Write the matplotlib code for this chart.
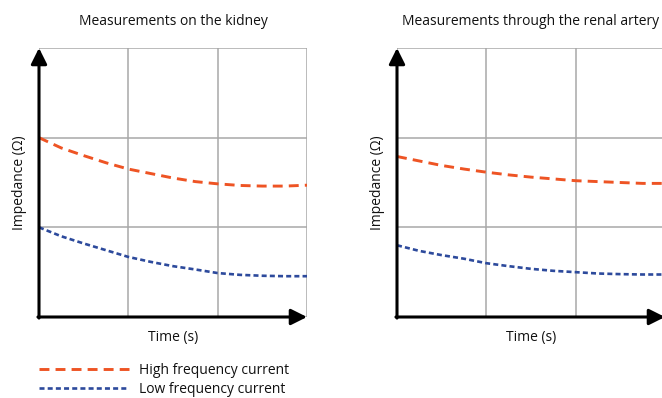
import matplotlib
matplotlib.use("Agg")
import matplotlib.pyplot as plt

plt.rcParams['font.family'] = ['Open Sans', 'DejaVu Sans']

# Time positions (grid units) and impedance readings for each panel
time_pts = [0, 0.25, 0.5, 0.75, 1.0, 1.25, 1.5, 1.75, 2.0, 2.25, 2.5, 2.75, 3.0]

kidney_high = [2.0, 1.885, 1.80, 1.72, 1.65, 1.60, 1.55, 1.51, 1.485, 1.467, 1.46, 1.46, 1.47]
kidney_low = [1.0, 0.90, 0.82, 0.745, 0.67, 0.615, 0.567, 0.53, 0.49, 0.47, 0.46, 0.455, 0.455]

artery_high = [1.79, 1.74, 1.69, 1.65, 1.615, 1.585, 1.56, 1.54, 1.52, 1.51, 1.50, 1.49, 1.49]
artery_low = [0.80, 0.737, 0.69, 0.65, 0.60, 0.567, 0.537, 0.515, 0.50, 0.485, 0.478, 0.474, 0.474]

titles = ["Measurements on the kidney", "Measurements through the renal artery"]
xlabel = "Time (s)"
ylabel = "Impedance (\u03a9)"
legend_labels = ["High frequency current", "Low frequency current"]

HIGH_COLOR = "#EE5424"
LOW_COLOR = "#2D4A9C"
GRID_COLOR = "#A8A8A8"
TEXT_COLOR = "#111111"

W, H = 662, 398
fig = plt.figure(figsize=(W / 100, H / 100), dpi=100)

panel_w, panel_h = 268, 269
lefts = [39, 397]
bottom = 317

series = [(kidney_high, kidney_low), (artery_high, artery_low)]

handles = None
for left, title, (hi, lo) in zip(lefts, titles, series):
    ax = fig.add_axes([left / W, (H - bottom) / H, panel_w / W, panel_h / H])
    ax.set_xlim(0, 3)
    ax.set_ylim(0, 3)
    ax.set_xticks([0, 1, 2, 3])
    ax.set_yticks([0, 1, 2, 3])
    ax.tick_params(length=0, labelbottom=False, labelleft=False)
    ax.grid(True, color=GRID_COLOR, linewidth=1.1)
    for s in ax.spines.values():
        s.set_visible(False)

    l1, = ax.plot(time_pts, hi, color=HIGH_COLOR, linewidth=2.1,
                  dashes=(3.4, 2.1), label=legend_labels[0], zorder=3)
    l2, = ax.plot(time_pts, lo, color=LOW_COLOR, linewidth=1.9,
                  dashes=(1.9, 1.2), label=legend_labels[1], zorder=3)
    if handles is None:
        handles = [l1, l2]

    # Axis arrows
    arrow = dict(arrowstyle='-|>,head_length=0.8,head_width=0.4',
                 lw=2.2, color='black', shrinkA=0, shrinkB=0,
                 mutation_scale=12)
    ax.annotate('', xy=(0, 1), xytext=(0, -0.004), xycoords='axes fraction',
                textcoords='axes fraction', arrowprops=arrow,
                annotation_clip=False, zorder=5)
    ax.annotate('', xy=(1, 0), xytext=(-0.004, 0), xycoords='axes fraction',
                textcoords='axes fraction', arrowprops=arrow,
                annotation_clip=False, zorder=5)

    ax.text(0.5, 1 + 23 / panel_h, title, transform=ax.transAxes,
            ha='center', va='baseline', fontsize=10, color=TEXT_COLOR)
    ax.set_xlabel(xlabel, fontsize=10, color=TEXT_COLOR)
    ax.xaxis.set_label_coords(0.5, -13 / panel_h)
    ax.xaxis.label.set_va('top')
    ax.set_ylabel(ylabel, fontsize=10, color=TEXT_COLOR)
    ax.yaxis.set_label_coords(-12 / panel_w, 0.5)

fig.legend(handles=handles, labels=legend_labels, loc='upper left',
           bbox_to_anchor=(39 / W, 1 - 363 / H), frameon=False,
           fontsize=10, handlelength=6.5, handletextpad=0.7,
           labelspacing=0.3, borderpad=0, borderaxespad=0,
           labelcolor=TEXT_COLOR)

fig.savefig("out.png", dpi=100)
